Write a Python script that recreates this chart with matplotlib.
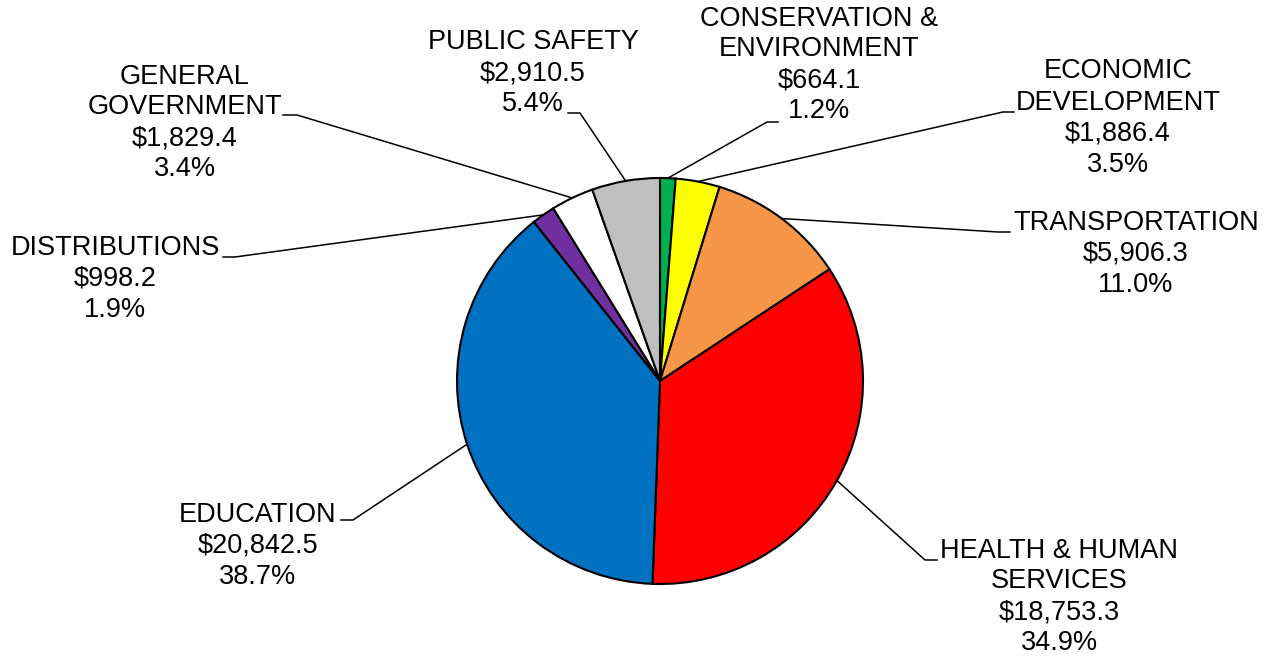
import numpy as np
import matplotlib.pyplot as plt

plt.rcParams['font.family'] = ['Liberation Sans', 'DejaVu Sans']

# ---- data ----
categories = ["CONSERVATION &\nENVIRONMENT", "ECONOMIC\nDEVELOPMENT", "TRANSPORTATION",
              "HEALTH & HUMAN\nSERVICES", "EDUCATION", "DISTRIBUTIONS",
              "GENERAL\nGOVERNMENT", "PUBLIC SAFETY"]
values = [664.1, 1886.4, 5906.3, 18753.3, 20842.5, 998.2, 1829.4, 2910.5]
colors = ["#00B050", "#FFFF00", "#F79646", "#FF0000", "#0070C0", "#7030A0",
          "#FFFFFF", "#BFBFBF"]

# ---- layout (pixel coordinates, y measured from top) ----
W, H = 1264, 657
label_xy = [(819, 65), (1118, 118), (1136, 254), (1059, 597),
            (258, 546), (115, 279), (185, 123), (533, 73)]
stub_start = [(778, 122), (1014, 112), (1010, 232), (937, 560),
              (341, 520), (223, 257), (283, 115), (568, 113)]
stub_end = [(767, 122), (1003, 112), (998, 232), (925, 560),
            (353, 520), (235, 257), (297, 115), (580, 113)]

fig = plt.figure(figsize=(W / 100, H / 100), dpi=100)
ax = fig.add_axes([0, 0, 1, 1])
cx, cy, r = 660, H - 381, 203
ax.pie(values, colors=colors, startangle=90, counterclock=False,
       center=(cx, cy), radius=r, frame=True,
       wedgeprops=dict(edgecolor='black', linewidth=1.5))
ax.set_xlim(0, W)
ax.set_ylim(0, H)
ax.set_aspect('auto')
ax.axis('off')

total = sum(values)
cum = 0.0
for i, (cat, v) in enumerate(zip(categories, values)):
    mid = cum + v / 2
    cum += v
    ang = np.deg2rad(90 - 360 * mid / total)
    ax_pt = (cx + r * np.cos(ang), cy + r * np.sin(ang))
    xs = [stub_start[i][0], stub_end[i][0], ax_pt[0]]
    ys = [H - stub_start[i][1], H - stub_end[i][1], ax_pt[1]]
    ax.plot(xs, ys, color='black', lw=1.1, zorder=1)
    txt = f"{cat}\n${v:,.1f}\n{v / total * 100:.1f}%"
    ax.text(label_xy[i][0], H - label_xy[i][1], txt, ha='center', va='center',
            fontsize=19.5, linespacing=1.25, color='black')

fig.savefig('out.png', dpi=100)
